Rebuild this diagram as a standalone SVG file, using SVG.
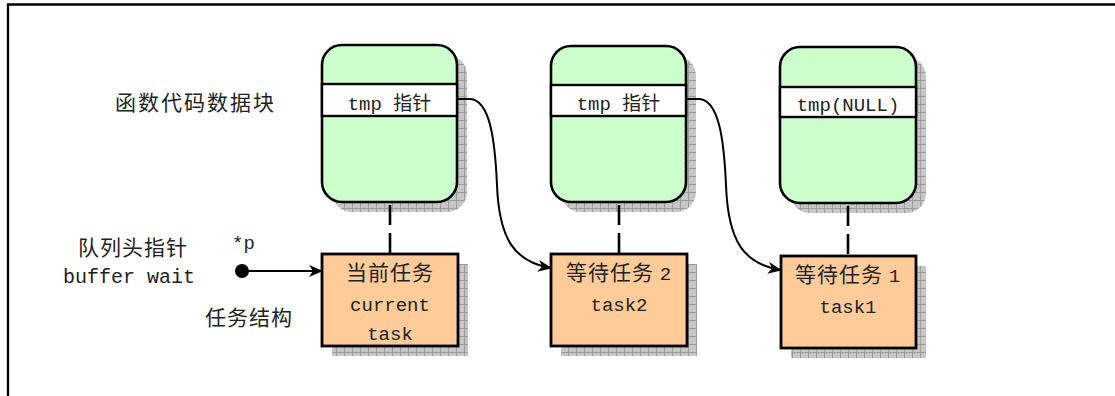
<svg xmlns="http://www.w3.org/2000/svg" width="1115" height="396" viewBox="0 0 1115 396">
<style>
.frame{fill:none;stroke:#000;stroke-width:2.3}
.green{fill:#ccffcc;stroke:#000;stroke-width:2.6}
.band{fill:#ffffff;stroke:#000;stroke-width:2.4}
.orange{fill:#ffcc99;stroke:#000;stroke-width:2.8}
.shadow{fill:url(#grid)}
.dash{stroke:#000;stroke-width:2.6;stroke-dasharray:20 8;fill:none}
.conn{stroke:#000;stroke-width:2;fill:none}
.t{font-family:"Liberation Mono","Noto Sans CJK SC",monospace;font-size:19px;fill:#222}
.c{font-family:"Noto Sans CJK SC","Liberation Sans",sans-serif;font-size:21px;letter-spacing:1px;fill:#222}
</style>
<defs>
<pattern id="grid" width="8" height="8" patternUnits="userSpaceOnUse">
<rect width="8" height="8" fill="#c6c6c6"/>
<path d="M0 0.5H8M0.5 0V8" stroke="#9c9c9c" stroke-width="1"/>
</pattern>
<marker id="arr" viewBox="0 0 14 12" refX="13" refY="6" markerWidth="14" markerHeight="12" markerUnits="userSpaceOnUse" orient="auto">
<path d="M0,0 L14,6 L0,12 L4,6 Z" fill="#000"/>
</marker>
</defs>
<path class="frame" d="M8,396 V4.5 H1115"/>

<text class="c" x="115" y="110" style="letter-spacing:2px">函数代码数据块</text>
<text class="c" x="78" y="255">队列头指针</text>
<text class="t" x="232" y="249">*p</text>
<text class="t" x="63" y="283" style="font-size:20px">buffer wait</text>
<text class="c" x="205" y="325">任务结构</text>

<g id="block1">
<rect class="shadow" x="332" y="55" width="135" height="157" rx="20"/>
<rect class="green" x="322" y="45" width="135" height="157" rx="20"/>
<rect class="band" x="322" y="84" width="135" height="32"/>
<text class="t" x="389.5" y="110" text-anchor="middle">tmp <tspan class="c" style="font-size:19px;letter-spacing:0">指针</tspan></text>
</g>
<g id="block2">
<rect class="shadow" x="561" y="56" width="135" height="156" rx="20"/>
<rect class="green" x="551" y="46" width="135" height="156" rx="20"/>
<rect class="band" x="551" y="85" width="135" height="31"/>
<text class="t" x="618.5" y="110" text-anchor="middle">tmp <tspan class="c" style="font-size:19px;letter-spacing:0">指针</tspan></text>
</g>
<g id="block3">
<rect class="shadow" x="790" y="57" width="136" height="156" rx="20"/>
<rect class="green" x="780" y="47" width="136" height="156" rx="20"/>
<rect class="band" x="780" y="87" width="136" height="30"/>
<text class="t" x="848" y="111" text-anchor="middle">tmp(NULL)</text>
</g>

<g id="task1">
<rect class="shadow" x="332" y="264" width="136" height="92"/>
<rect class="orange" x="322" y="254" width="136" height="92"/>
<text class="c" x="390" y="280" text-anchor="middle">当前任务</text>
<text class="t" x="390" y="311" text-anchor="middle">current</text>
<text class="t" x="390" y="340" text-anchor="middle">task</text>
</g>
<g id="task2">
<rect class="shadow" x="561" y="264" width="136" height="92"/>
<rect class="orange" x="551" y="254" width="136" height="92"/>
<text class="c" x="619" y="280" text-anchor="middle">等待任务 <tspan class="t">2</tspan></text>
<text class="t" x="619" y="311" text-anchor="middle">task2</text>
</g>
<g id="task3">
<rect class="shadow" x="791" y="266" width="135" height="92"/>
<rect class="orange" x="781" y="256" width="135" height="92"/>
<text class="c" x="848" y="282" text-anchor="middle">等待任务 <tspan class="t">1</tspan></text>
<text class="t" x="848" y="313" text-anchor="middle">task1</text>
</g>

<g id="connectors">
<line class="dash" x1="390" y1="205" x2="390" y2="254"/>
<line class="dash" x1="619" y1="205" x2="619" y2="254"/>
<line class="dash" x1="848" y1="206" x2="848" y2="256"/>
<circle cx="242" cy="271" r="7" fill="#000"/>
<line class="conn" x1="242" y1="271" x2="322" y2="271" marker-end="url(#arr)"/>
<path class="conn" d="M457,99 L470,99 C490,100 495,140 497,185 C499,240 515,262 551,268" marker-end="url(#arr)"/>
<path class="conn" d="M686,99 L699,99 C719,100 724,140 726,185 C728,242 744,264 781,270" marker-end="url(#arr)"/>
</g>
</svg>
